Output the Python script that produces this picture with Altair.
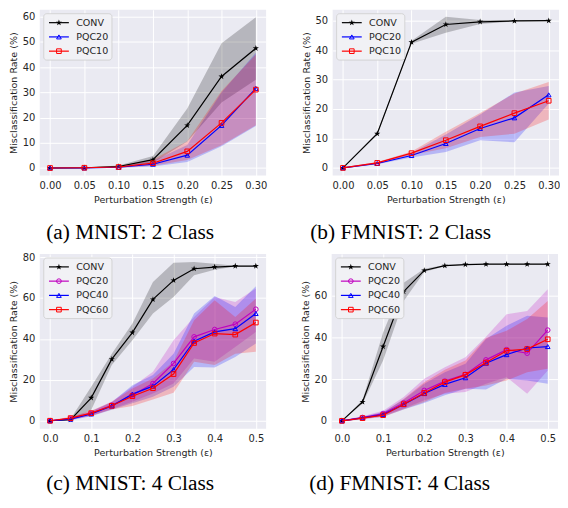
import math
import altair as alt
import pandas as pd

# ---------------- data ----------------
EPS_2 = [0.0, 0.05, 0.10, 0.15, 0.20, 0.25, 0.30]
EPS_4 = [0.0, 0.05, 0.10, 0.15, 0.20, 0.25, 0.30, 0.35, 0.40, 0.45, 0.50]

# (a) MNIST: 2 Class
A_CONV = [0.0, 0.1, 0.6, 3.3, 16.9, 36.3, 47.5]
A_CONV_LO = [0.0, 0.0, 0.3, 2.1, 10.5, 26.0, 35.0]
A_CONV_HI = [0.0, 0.2, 1.0, 4.8, 23.6, 49.5, 59.8]
A_PQC20 = [0.0, 0.0, 0.3, 1.5, 5.1, 16.9, 31.6]
A_PQC20_LO = [-0.2, -0.1, 0.1, 0.6, 2.4, 8.6, 16.7]
A_PQC20_HI = [0.2, 0.1, 0.6, 2.8, 9.1, 30.0, 45.7]
A_PQC10 = [0.0, 0.1, 0.4, 1.9, 6.6, 17.9, 31.1]
A_PQC10_LO = [-0.2, -0.1, 0.1, 0.9, 3.2, 9.0, 17.0]
A_PQC10_HI = [0.2, 0.3, 0.8, 3.4, 10.6, 30.6, 45.0]

# (b) FMNIST: 2 Class
B_CONV = [0.0, 11.6, 42.7, 48.7, 49.6, 49.9, 50.0]
B_CONV_LO = [0.0, 11.2, 42.2, 45.9, 48.9, 49.7, 49.9]
B_CONV_HI = [0.0, 12.0, 43.2, 51.3, 50.2, 50.1, 50.1]
B_PQC20 = [0.0, 1.5, 4.2, 8.3, 13.4, 17.0, 24.8]
B_PQC20_LO = [-0.2, 1.2, 3.5, 5.4, 9.4, 8.7, 21.9]
B_PQC20_HI = [0.2, 1.9, 5.1, 11.3, 18.1, 25.6, 27.8]
B_PQC10 = [0.0, 1.7, 5.0, 9.4, 14.1, 18.6, 22.8]
B_PQC10_LO = [-0.2, 1.4, 4.4, 6.7, 10.5, 11.6, 16.4]
B_PQC10_HI = [0.2, 2.0, 5.6, 12.3, 18.6, 25.3, 29.2]

# (c) MNIST: 4 Class
C_CONV = [0.0, 0.5, 11.2, 30.1, 43.1, 59.3, 68.6, 74.3, 75.1, 75.6, 75.6]
C_CONV_LO = [0.0, 0.2, 5.2, 27.2, 39.3, 52.4, 60.5, 71.1, 73.8, 75.4, 75.5]
C_CONV_HI = [0.0, 1.0, 16.6, 32.8, 47.5, 67.8, 77.2, 77.6, 76.7, 75.8, 75.7]
C_PQC20 = [0.0, 1.0, 3.6, 7.6, 12.5, 18.2, 28.0, 41.0, 44.6, 47.2, 54.5]
C_PQC20_LO = [-0.3, 0.4, 2.4, 5.8, 9.3, 13.3, 18.2, 30.4, 28.8, 36.1, 43.4]
C_PQC20_HI = [0.3, 1.6, 4.8, 9.4, 16.6, 23.9, 39.3, 50.7, 60.5, 58.0, 64.6]
C_PQC40 = [0.0, 0.8, 3.3, 7.2, 13.0, 16.9, 25.0, 38.9, 43.4, 45.0, 52.4]
C_PQC40_LO = [-0.3, 0.3, 2.2, 5.4, 8.5, 11.7, 16.6, 26.3, 26.0, 31.2, 37.7]
C_PQC40_HI = [0.3, 1.3, 4.5, 9.0, 17.4, 22.3, 32.8, 52.4, 61.0, 55.6, 65.7]
C_PQC60 = [0.0, 1.3, 3.7, 7.3, 12.0, 15.9, 22.8, 38.0, 42.6, 42.1, 48.0]
C_PQC60_LO = [-0.3, 0.7, 2.5, 5.5, 7.2, 10.4, 13.7, 28.8, 27.2, 32.8, 33.7]
C_PQC60_HI = [0.3, 1.9, 4.9, 9.1, 15.8, 20.7, 28.8, 49.1, 58.9, 50.7, 59.7]

# (d) FMNIST: 4 Class
D_CONV = [0.0, 9.1, 35.7, 62.1, 72.3, 74.6, 75.1, 75.3, 75.3, 75.3, 75.3]
D_CONV_LO = [0.0, 8.2, 29.0, 57.6, 71.5, 74.3, 75.0, 75.2, 75.2, 75.2, 75.2]
D_CONV_HI = [0.0, 10.0, 42.5, 66.4, 73.1, 74.9, 75.2, 75.4, 75.4, 75.4, 75.4]
D_PQC20 = [0.0, 1.6, 3.5, 8.6, 14.6, 19.1, 22.3, 29.3, 34.2, 32.5, 43.6]
D_PQC20_LO = [-0.3, 1.0, 2.3, 5.9, 9.9, 13.0, 13.8, 17.8, 21.0, 13.0, 24.2]
D_PQC20_HI = [0.3, 2.2, 4.9, 11.5, 20.2, 25.8, 30.6, 40.4, 51.2, 52.8, 63.2]
D_PQC40 = [0.0, 1.4, 3.0, 7.8, 13.1, 17.5, 20.7, 27.7, 31.8, 35.0, 35.7]
D_PQC40_LO = [-0.3, 0.9, 2.0, 5.5, 8.6, 12.3, 15.4, 15.0, 20.2, 19.4, 17.8]
D_PQC40_HI = [0.3, 1.9, 4.2, 10.3, 17.8, 23.4, 27.4, 39.3, 45.7, 50.5, 49.7]
D_PQC60 = [0.0, 1.3, 2.7, 8.0, 13.4, 18.6, 22.1, 28.0, 33.7, 34.5, 39.2]
D_PQC60_LO = [-0.3, 0.8, 1.8, 5.6, 9.1, 13.4, 15.4, 17.0, 19.4, 23.4, 25.0]
D_PQC60_HI = [0.3, 1.8, 3.8, 10.5, 18.6, 24.5, 29.0, 39.8, 43.3, 48.9, 57.6]

MODELS_2 = ["CONV", "PQC20", "PQC10"]
MODELS_4 = ["CONV", "PQC20", "PQC40", "PQC60"]
CAPTIONS = ["(a) MNIST: 2 Class", "(b) FMNIST: 2 Class", "(c) MNIST: 4 Class", "(d) FMNIST: 4 Class"]
X_TICKS_2 = [0.0, 0.05, 0.10, 0.15, 0.20, 0.25, 0.30]
X_TICKS_4 = [0.0, 0.1, 0.2, 0.3, 0.4, 0.5]

# ---------------- style ----------------
BG = "#EAEAF2"
TXT = "#262626"
FONT = "DejaVu Sans"
LEG_ROW0 = 13.0
LEG_STEP = 14.35


def star_path(ro, ri):
    pts = []
    for k in range(10):
        r = ro if k % 2 == 0 else ri
        a = -math.pi / 2 + k * math.pi / 5
        pts.append(f"{r * math.cos(a):.3f},{r * math.sin(a):.3f}")
    return "M" + "L".join(pts) + "Z"


STAR = star_path(1.3, 0.5)   # custom SVG symbol (Vega has no built-in star)


def panel(eps, series, models, colors, shapes, ydom, yvals, xdom, xvals, xfmt,
          caption, cap_x, cap_y, w, h):
    rows = []
    for m in models:
        mean, lo, hi = series[m]
        for e, v, l, u in zip(eps, mean, lo, hi):
            rows.append({"eps": e, "model": m, "val": v, "lo": l, "hi": u})
    df = pd.DataFrame(rows)

    xenc = alt.X("eps:Q", scale=alt.Scale(domain=xdom, nice=False, zero=False),
                 axis=alt.Axis(values=xvals, format=xfmt, title="Perturbation Strength (ε)"))
    yscale = alt.Scale(domain=ydom, nice=False, zero=False)
    yaxis = alt.Axis(values=yvals, title="Misclassification Rate (%)")
    colenc = alt.Color("model:N", scale=alt.Scale(domain=models, range=colors), legend=None)

    base = alt.Chart(df)
    band = base.mark_area(opacity=0.22).encode(
        x=xenc,
        y=alt.Y("lo:Q", scale=yscale, axis=yaxis, stack=None),
        y2="hi:Q",
        color=colenc,
    )
    layers = [band]
    for m, c, s in zip(models, colors, shapes):
        sub = base.transform_filter(alt.datum.model == m)
        layers.append(sub.mark_line(color=c, strokeWidth=1.2).encode(
            x=xenc, y=alt.Y("val:Q", scale=yscale, axis=yaxis)))
        if s == STAR:
            pt = sub.mark_point(shape=STAR, filled=True, color=c, size=25, opacity=1)
        else:
            pt = sub.mark_point(shape=s, filled=False, color=c, size=22, strokeWidth=1, opacity=1)
        layers.append(pt.encode(x=xenc, y=alt.Y("val:Q", scale=yscale, axis=yaxis)))

    # legend (matplotlib style: line + marker + label inside a rounded box)
    n = len(models)
    box_bottom = LEG_ROW0 + (n - 1) * LEG_STEP + 9.0
    box = alt.Chart(pd.DataFrame({"k": [0]})).mark_rect(
        fill="#F1F1F5", stroke="#CCCCCC", strokeWidth=0.8, cornerRadius=3
    ).encode(x=alt.value(4), x2=alt.value(72.7), y=alt.value(4), y2=alt.value(box_bottom))
    leg = alt.Chart(pd.DataFrame({"model": models, "row": list(range(n))})).transform_calculate(
        py=f"{LEG_ROW0} + datum.row * {LEG_STEP}")
    ly = alt.Y("py:Q", scale=None, axis=None)
    hollow = [m for m, s in zip(models, shapes) if s != STAR]
    hollow_shapes = [s for s in shapes if s != STAR]
    shpenc = alt.Shape("model:N", scale=alt.Scale(domain=hollow, range=hollow_shapes), legend=None)
    leg_line = leg.mark_rule(strokeWidth=1.2).encode(
        x=alt.value(9.3), x2=alt.value(29.3), y=ly, color=colenc)
    leg_hollow = leg.transform_filter(alt.datum.model != "CONV").mark_point(
        filled=False, size=22, strokeWidth=1, opacity=1).encode(
        x=alt.value(19.3), y=ly, color=colenc, shape=shpenc)
    leg_star = leg.transform_filter(alt.datum.model == "CONV").mark_point(
        shape=STAR, filled=True, size=25, opacity=1, color="#000000").encode(
        x=alt.value(19.3), y=ly)
    leg_text = leg.mark_text(align="left", baseline="middle", font=FONT, fontSize=9.6,
                             color=TXT).encode(x=alt.value(36.7), y=ly, text="model:N")
    cap = alt.Chart(pd.DataFrame({"caption": [caption]})).mark_text(
        align="center", baseline="alphabetic", font="Liberation Serif", fontSize=21.5,
        color="#000000").encode(x=alt.value(cap_x), y=alt.value(cap_y), text="caption:N")
    layers += [box, leg_line, leg_hollow, leg_star, leg_text, cap]

    return alt.layer(*layers).properties(width=w, height=h)


COL2 = ["#000000", "#0000FF", "#FF0000"]
SHP2 = [STAR, "triangle-up", "square"]
COL4 = ["#000000", "#BF00BF", "#0000FF", "#FF0000"]
SHP4 = [STAR, "circle", "triangle-up", "square"]

pa = panel(EPS_2, {"CONV": (A_CONV, A_CONV_LO, A_CONV_HI), "PQC20": (A_PQC20, A_PQC20_LO, A_PQC20_HI),
                   "PQC10": (A_PQC10, A_PQC10_LO, A_PQC10_HI)},
           MODELS_2, COL2, SHP2, [-3.0, 62.8], [0, 10, 20, 30, 40, 50, 60], [-0.015, 0.315],
           X_TICKS_2, ".2f", CAPTIONS[0], 91, 231, 228, 167)
pb = panel(EPS_2, {"CONV": (B_CONV, B_CONV_LO, B_CONV_HI), "PQC20": (B_PQC20, B_PQC20_LO, B_PQC20_HI),
                   "PQC10": (B_PQC10, B_PQC10_LO, B_PQC10_HI)},
           MODELS_2, COL2, SHP2, [-2.6, 53.7], [0, 10, 20, 30, 40, 50], [-0.015, 0.315],
           X_TICKS_2, ".2f", CAPTIONS[1], 68.5, 231, 228, 167)
pc = panel(EPS_4, {"CONV": (C_CONV, C_CONV_LO, C_CONV_HI), "PQC20": (C_PQC20, C_PQC20_LO, C_PQC20_HI),
                   "PQC40": (C_PQC40, C_PQC40_LO, C_PQC40_HI), "PQC60": (C_PQC60, C_PQC60_LO, C_PQC60_HI)},
           MODELS_4, COL4, SHP4, [-3.9, 81.5], [0, 20, 40, 60, 80], [-0.025, 0.525],
           X_TICKS_4, ".1f", CAPTIONS[2], 91, 238, 228, 176)
pd_ = panel(EPS_4, {"CONV": (D_CONV, D_CONV_LO, D_CONV_HI), "PQC20": (D_PQC20, D_PQC20_LO, D_PQC20_HI),
                    "PQC40": (D_PQC40, D_PQC40_LO, D_PQC40_HI), "PQC60": (D_PQC60, D_PQC60_LO, D_PQC60_HI)},
            MODELS_4, COL4, SHP4, [-3.8, 80.2], [0, 20, 40, 60], [-0.025, 0.525],
            X_TICKS_4, ".1f", CAPTIONS[3], 68.5, 238, 228, 176)

row1 = alt.hconcat(pa, pb, spacing=34).resolve_scale(color="independent", shape="independent")
row2 = alt.hconcat(pc, pd_, spacing=34).resolve_scale(color="independent", shape="independent")

chart = alt.vconcat(row1, row2, spacing=8).resolve_scale(
    color="independent", shape="independent"
).properties(
    padding=0,
    background="white",
).configure_view(
    fill=BG, stroke=None,
).configure_axis(
    grid=True, gridColor="white", gridWidth=1, domain=False, ticks=False,
    labelFont=FONT, labelFontSize=10, labelColor=TXT, labelPadding=5,
    titleFont=FONT, titleFontSize=9.6, titleFontWeight="normal", titleColor=TXT, titlePadding=4,
)

chart.save("out.html", embed_options={"renderer": "svg", "actions": False})
